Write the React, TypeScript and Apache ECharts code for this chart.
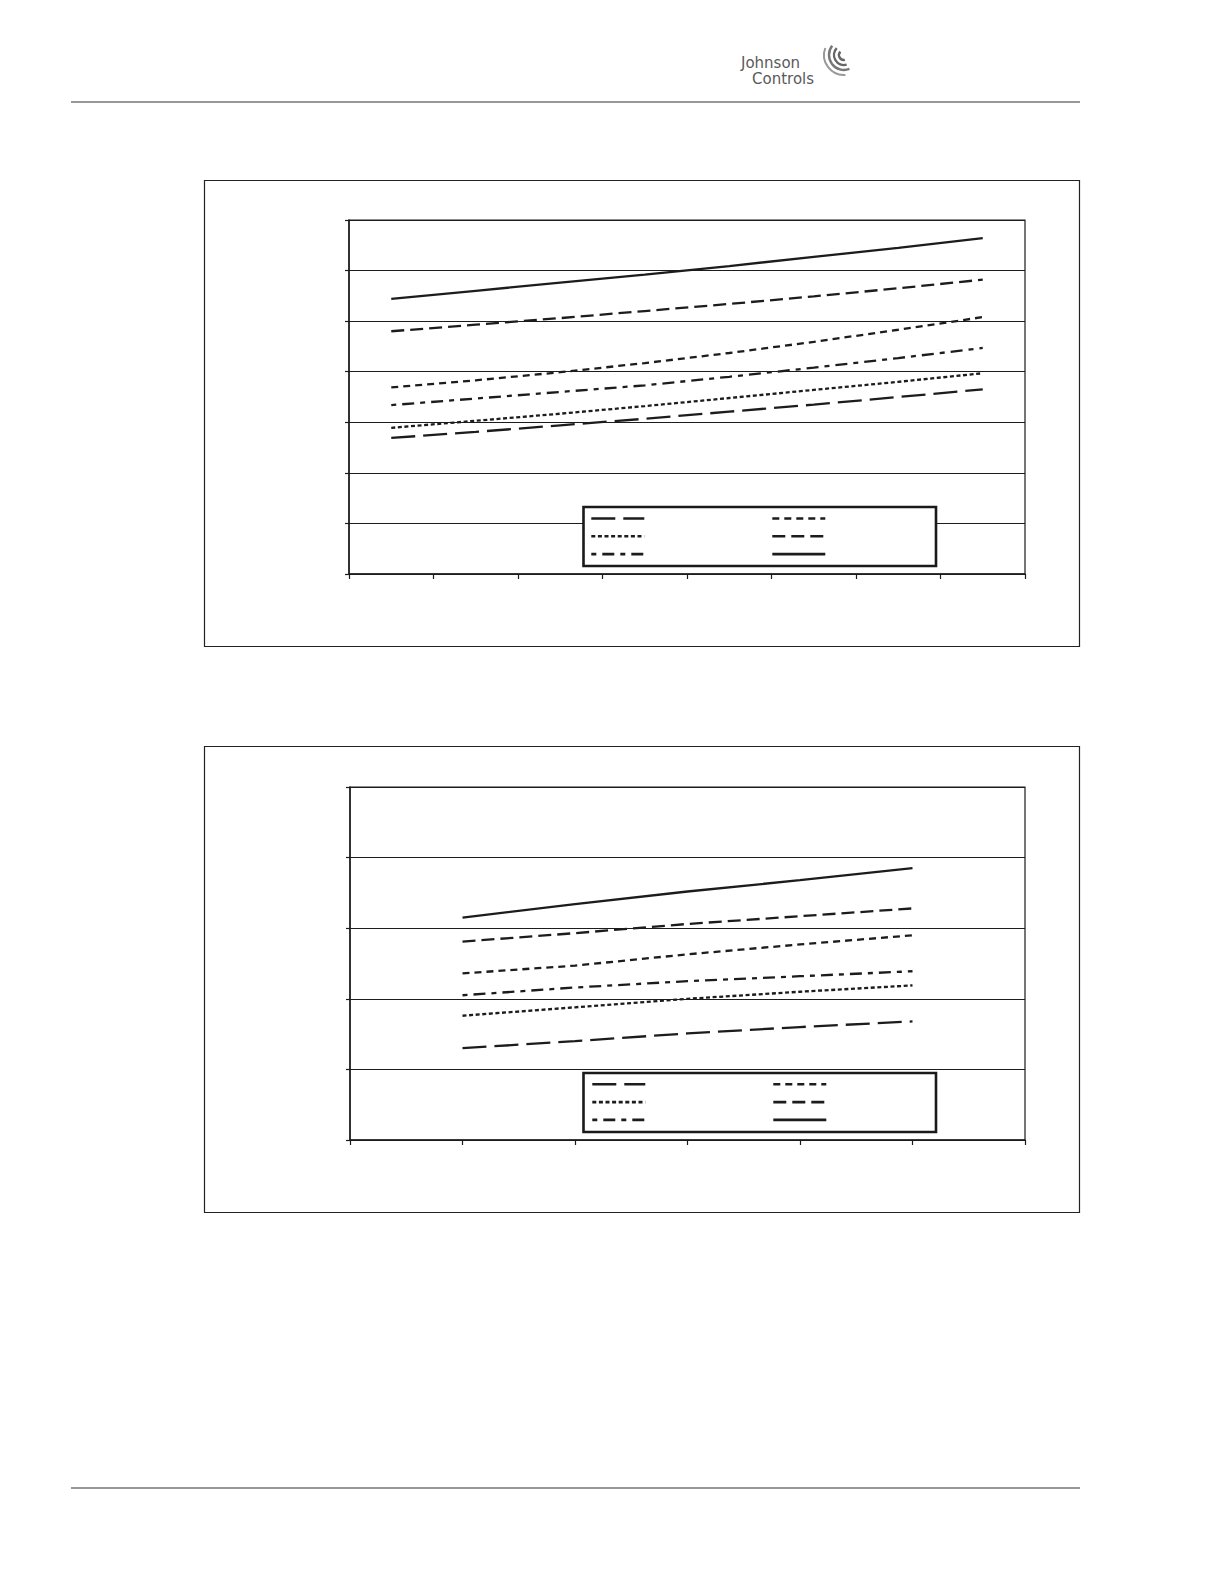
import React, { useEffect, useRef } from "react";
import * as echarts from "echarts";

// ---------- Chart 1 data ----------
const categories1 = ["1", "2", "3", "4", "5", "6", "7", "8"];
const c1LongDash = [2.69, 2.81, 2.94, 3.07, 3.21, 3.35, 3.5, 3.65];
const c1ShortDash = [3.69, 3.83, 3.99, 4.17, 4.37, 4.59, 4.83, 5.08];
const c1Dotted = [2.89, 3.03, 3.17, 3.32, 3.48, 3.64, 3.8, 3.97];
const c1MedDash = [4.8, 4.93, 5.06, 5.2, 5.34, 5.49, 5.65, 5.82];
const c1DashDot = [3.34, 3.47, 3.6, 3.73, 3.9, 4.08, 4.27, 4.47];
const c1Solid = [5.44, 5.6, 5.76, 5.92, 6.09, 6.27, 6.45, 6.64];

// ---------- Chart 2 data ----------
const xValues2 = [1, 2, 3, 4, 5];
const c2LongDash = [1.3, 1.4, 1.51, 1.6, 1.68];
const c2ShortDash = [2.36, 2.47, 2.63, 2.77, 2.9];
const c2Dotted = [1.76, 1.88, 2.0, 2.1, 2.19];
const c2MedDash = [2.81, 2.93, 3.06, 3.17, 3.28];
const c2DashDot = [2.05, 2.16, 2.25, 2.32, 2.39];
const c2Solid = [3.15, 3.34, 3.52, 3.68, 3.85];

const INK = "#1c1c1c";

const styles: Record<string, any> = {
  longDash: [24, 8],
  shortDash: [7, 5],
  dotted: [4, 2.6],
  medDash: [13, 6],
  dashDot: [5, 6, 12, 6],
  solid: "solid",
};

function mkSeries(name: string, data: any[], kind: string, idx: number) {
  return {
    name,
    type: "line",
    xAxisIndex: idx,
    yAxisIndex: idx,
    data,
    symbol: "none",
    showSymbol: false,
    smooth: false,
    z: 2,
    lineStyle: { color: INK, width: 2.3, type: styles[kind] },
    itemStyle: { color: INK },
  };
}

export default function App() {
  const ref = useRef<HTMLDivElement>(null);
  useEffect(() => {
    if (!ref.current) return;
    const chart = echarts.init(ref.current, null, { renderer: "svg" });
    const pairs = (ys: number[]) => ys.map((y, i) => [xValues2[i], y]);

    const legendBase = {
      orient: "vertical",
      padding: 0,
      itemWidth: 53,
      itemHeight: 12,
      itemGap: 7,
      selectedMode: false,
      formatter: () => "",
      textStyle: { fontSize: 8 },
      itemStyle: { opacity: 0 },
      lineStyle: { width: 2.6 },
      z: 6,
    };

    const option: any = {
      animation: false,
      backgroundColor: "#ffffff",
      grid: [
        { left: 349, top: 220, width: 676, height: 354, show: true, borderColor: INK, borderWidth: 1.2, backgroundColor: "transparent" },
        { left: 350, top: 787, width: 675, height: 353, show: true, borderColor: INK, borderWidth: 1.2, backgroundColor: "transparent" },
      ],
      xAxis: [
        {
          gridIndex: 0,
          type: "category",
          data: categories1,
          boundaryGap: true,
          axisLine: { lineStyle: { color: INK, width: 1.5 } },
          axisTick: { show: true, length: 5, lineStyle: { color: INK, width: 1.2 } },
          axisLabel: { show: false },
          splitLine: { show: false },
        },
        {
          gridIndex: 1,
          type: "value",
          min: 0,
          max: 6,
          interval: 1,
          axisLine: { lineStyle: { color: INK, width: 1.5 } },
          axisTick: { show: true, length: 5, lineStyle: { color: INK, width: 1.2 } },
          axisLabel: { show: false },
          splitLine: { show: false },
        },
      ],
      yAxis: [
        {
          gridIndex: 0,
          type: "value",
          min: 0,
          max: 7,
          interval: 1,
          axisLine: { show: true, lineStyle: { color: INK, width: 1.5 } },
          axisTick: { show: true, length: 4, lineStyle: { color: INK, width: 1.2 } },
          axisLabel: { show: false },
          splitLine: { show: true, lineStyle: { color: INK, width: 1.2 } },
        },
        {
          gridIndex: 1,
          type: "value",
          min: 0,
          max: 5,
          interval: 1,
          axisLine: { show: true, lineStyle: { color: INK, width: 1.5 } },
          axisTick: { show: true, length: 4, lineStyle: { color: INK, width: 1.2 } },
          axisLabel: { show: false },
          splitLine: { show: true, lineStyle: { color: INK, width: 1.2 } },
        },
      ],
      legend: [
        { ...legendBase, left: 590, top: 512.5, data: ["c1s1", "c1s3", "c1s5"] },
        { ...legendBase, left: 771, top: 512.5, data: ["c1s2", "c1s4", "c1s6"] },
        { ...legendBase, left: 591, top: 1078.3, data: ["c2s1", "c2s3", "c2s5"] },
        { ...legendBase, left: 772, top: 1078.3, data: ["c2s2", "c2s4", "c2s6"] },
      ],
      series: [
        mkSeries("c1s1", c1LongDash, "longDash", 0),
        mkSeries("c1s2", c1ShortDash, "shortDash", 0),
        mkSeries("c1s3", c1Dotted, "dotted", 0),
        mkSeries("c1s4", c1MedDash, "medDash", 0),
        mkSeries("c1s5", c1DashDot, "dashDot", 0),
        mkSeries("c1s6", c1Solid, "solid", 0),
        mkSeries("c2s1", pairs(c2LongDash), "longDash", 1),
        mkSeries("c2s2", pairs(c2ShortDash), "shortDash", 1),
        mkSeries("c2s3", pairs(c2Dotted), "dotted", 1),
        mkSeries("c2s4", pairs(c2MedDash), "medDash", 1),
        mkSeries("c2s5", pairs(c2DashDot), "dashDot", 1),
        mkSeries("c2s6", pairs(c2Solid), "solid", 1),
      ],
      graphic: [
        // page header / footer rules
        { type: "line", z: 1, shape: { x1: 71, y1: 102, x2: 1080, y2: 102 }, style: { stroke: "#333", lineWidth: 1.2 } },
        { type: "line", z: 1, shape: { x1: 71, y1: 1488, x2: 1080, y2: 1488 }, style: { stroke: "#333", lineWidth: 1.2 } },
        // chart frames
        { type: "rect", z: 1, shape: { x: 204.5, y: 180.5, width: 875, height: 466 }, style: { fill: "none", stroke: "#222", lineWidth: 1.2 } },
        { type: "rect", z: 1, shape: { x: 204.5, y: 746.5, width: 875, height: 466 }, style: { fill: "none", stroke: "#222", lineWidth: 1.2 } },
        // legend boxes
        { type: "rect", z: 4, shape: { x: 583.5, y: 507, width: 352.5, height: 59 }, style: { fill: "#ffffff", stroke: "#1a1a1a", lineWidth: 2.6 } },
        { type: "rect", z: 4, shape: { x: 583.5, y: 1073, width: 352.5, height: 59 }, style: { fill: "#ffffff", stroke: "#1a1a1a", lineWidth: 2.6 } },
        // logo
        { type: "text", z: 1, x: 741, y: 55, style: { text: "Johnson", font: '500 15px "DejaVu Sans"', fill: "#5a5a5a", textVerticalAlign: "top" } },
        { type: "text", z: 1, x: 752, y: 71, style: { text: "Controls", font: '500 15px "DejaVu Sans"', fill: "#5a5a5a", textVerticalAlign: "top" } },
        { type: "arc", z: 1, shape: { cx: 844, cy: 55, r: 5, startAngle: 1.4, endAngle: 3.9 }, style: { stroke: "#666", lineWidth: 2.4, fill: "none" } },
        { type: "arc", z: 1, shape: { cx: 844, cy: 55, r: 10, startAngle: 1.3, endAngle: 3.9 }, style: { stroke: "#666", lineWidth: 2.4, fill: "none" } },
        { type: "arc", z: 1, shape: { cx: 844, cy: 55, r: 15, startAngle: 1.2, endAngle: 3.8 }, style: { stroke: "#777", lineWidth: 2.4, fill: "none" } },
        { type: "arc", z: 1, shape: { cx: 844, cy: 55, r: 20, startAngle: 1.5, endAngle: 3.5 }, style: { stroke: "#999", lineWidth: 2, fill: "none" } },
      ],
    };
    chart.setOption(option);
    return () => chart.dispose();
  }, []);

  return (
    <div
      ref={ref}
      style={{ position: "fixed", left: 0, top: 0, width: 1224, height: 1584, background: "#fff" }}
    />
  );
}
